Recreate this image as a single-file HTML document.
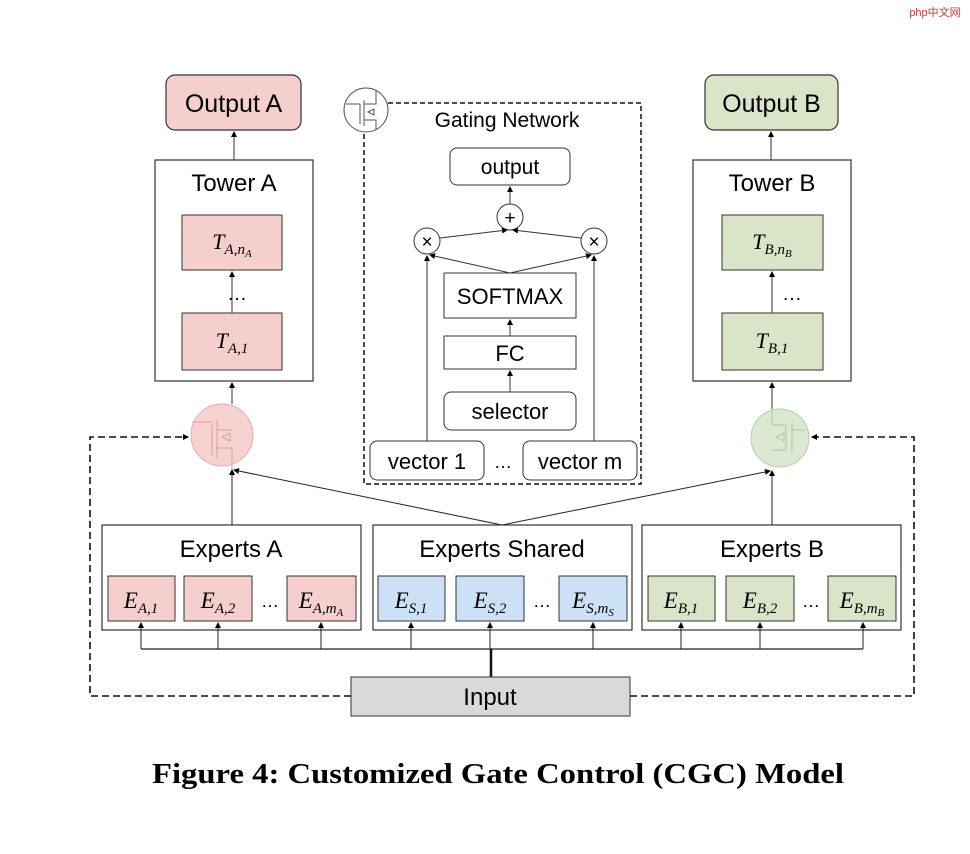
<!DOCTYPE html>
<html><head><meta charset="utf-8"><style>
html,body{margin:0;padding:0;background:#fff;}
svg{display:block;}
.s{font-family:"Liberation Sans",sans-serif;fill:#000;}
.m{font-family:"Liberation Serif",serif;font-style:italic;fill:#000;}
</style></head><body>
<svg width="970" height="854" viewBox="0 0 970 854" xmlns="http://www.w3.org/2000/svg">
<defs>
<marker id="a" markerWidth="6" markerHeight="6" refX="5" refY="3" orient="auto" markerUnits="userSpaceOnUse"><path d="M0,0 L6,3 L0,6 z" fill="#000"/></marker>
</defs>
<text x="935" y="16" font-size="11" fill="#c33" font-family="Liberation Sans, Noto Sans CJK SC, sans-serif" text-anchor="middle">php中文网</text>

<rect x="166" y="75" width="135" height="55" rx="9" fill="#f4cfcd" stroke="#333" stroke-width="1.2"/>
<text x="233.5" y="112" font-size="25" text-anchor="middle" class="s">Output A</text>
<rect x="155" y="160" width="158" height="221" fill="#fff" stroke="#333" stroke-width="1.2"/>
<text x="234" y="191" font-size="24" text-anchor="middle" class="s">Tower A</text>
<rect x="182" y="215" width="100" height="55" fill="#f4cfcd" stroke="#333"/>
<text x="232" y="249" font-size="22" text-anchor="middle" class="m">T<tspan font-size="15" dy="5">A,n</tspan><tspan font-size="11" dy="3">A</tspan></text>
<text x="237" y="300" font-size="20" text-anchor="middle" class="s">…</text>
<rect x="182" y="313" width="100" height="57" fill="#f4cfcd" stroke="#333"/>
<text x="232" y="348" font-size="22" text-anchor="middle" class="m">T<tspan font-size="15" dy="5">A,1</tspan></text>
<line x1="232" y1="313" x2="232" y2="272" stroke="#333" marker-end="url(#a)"/>
<line x1="234" y1="160" x2="234" y2="132" stroke="#333" marker-end="url(#a)"/>

<rect x="705" y="75" width="133" height="55" rx="9" fill="#d9e4c9" stroke="#333" stroke-width="1.2"/>
<text x="771.5" y="112" font-size="25" text-anchor="middle" class="s">Output B</text>
<rect x="693" y="160" width="158" height="221" fill="#fff" stroke="#333" stroke-width="1.2"/>
<text x="772" y="191" font-size="24" text-anchor="middle" class="s">Tower B</text>
<rect x="722" y="215" width="101" height="55" fill="#d9e4c9" stroke="#333"/>
<text x="772" y="249" font-size="22" text-anchor="middle" class="m">T<tspan font-size="15" dy="5">B,n</tspan><tspan font-size="11" dy="3">B</tspan></text>
<text x="792" y="300" font-size="20" text-anchor="middle" class="s">…</text>
<rect x="722" y="313" width="101" height="57" fill="#d9e4c9" stroke="#333"/>
<text x="772" y="348" font-size="22" text-anchor="middle" class="m">T<tspan font-size="15" dy="5">B,1</tspan></text>
<line x1="772" y1="313" x2="772" y2="272" stroke="#333" marker-end="url(#a)"/>
<line x1="771" y1="160" x2="771" y2="132" stroke="#333" marker-end="url(#a)"/>

<circle cx="222" cy="435" r="31" fill="#f6d3d1" stroke="#e8aaa8"/>
<g stroke="#e29a98" fill="none" stroke-width="1"><path d="M192,422 H212 M212,425 V455 M217,420 V458 M217,430 H232 M217,448 H232 M232,448 V470 M222,437 l8,-4 v8 z"/></g>
<circle cx="780" cy="438" r="29" fill="#dbe9d3" stroke="#b4cfa8"/>
<g stroke="#a9c79a" fill="none" stroke-width="1"><path d="M772,410 V425 M772,425 H786 M786,425 V450 M772,450 H786 M792,424 V452 M792,430 H806 M776,437 l8,-4 v8 z"/></g>
<line x1="232" y1="404" x2="232" y2="383" stroke="#333" marker-end="url(#a)"/>
<line x1="772" y1="409" x2="772" y2="383" stroke="#333" marker-end="url(#a)"/>

<rect x="364" y="103" width="277" height="381" fill="none" stroke="#111" stroke-width="1.5" stroke-dasharray="5,3"/>
<circle cx="366" cy="110" r="22" fill="#fff" stroke="#555"/>
<g stroke="#555" fill="none"><path d="M346,104 H360 M360,104 V124 M364,100 V126 M364,104 H376 V90 M364,120 H376 V130 M368,112 l6,-3 v6 z"/></g>
<text x="507" y="127" font-size="21" text-anchor="middle" class="s">Gating Network</text>
<rect x="450" y="148" width="120" height="37" rx="7" fill="#fff" stroke="#333"/>
<text x="510" y="174" font-size="21" text-anchor="middle" class="s">output</text>
<circle cx="510" cy="217" r="13" fill="#fff" stroke="#333"/>
<text x="510" y="224" font-size="19" text-anchor="middle" class="s">+</text>
<circle cx="427" cy="241" r="13" fill="#fff" stroke="#333"/>
<text x="427" y="248" font-size="19" text-anchor="middle" class="s">×</text>
<circle cx="594" cy="241" r="13" fill="#fff" stroke="#333"/>
<text x="594" y="248" font-size="19" text-anchor="middle" class="s">×</text>
<line x1="510" y1="204" x2="510" y2="187" stroke="#333" marker-end="url(#a)"/>
<line x1="440" y1="238" x2="507" y2="230" stroke="#333" marker-end="url(#a)"/>
<line x1="581" y1="238" x2="513" y2="230" stroke="#333" marker-end="url(#a)"/>
<line x1="510" y1="273" x2="430" y2="255" stroke="#333" marker-end="url(#a)"/>
<line x1="510" y1="273" x2="591" y2="255" stroke="#333" marker-end="url(#a)"/>
<rect x="444" y="273" width="132" height="45" fill="#fff" stroke="#333"/>
<text x="510" y="304" font-size="22" text-anchor="middle" class="s">SOFTMAX</text>
<rect x="444" y="336" width="132" height="33" fill="#fff" stroke="#333"/>
<text x="510" y="361" font-size="22" text-anchor="middle" class="s">FC</text>
<rect x="444" y="392" width="132" height="38" rx="7" fill="#fff" stroke="#333"/>
<text x="510" y="419" font-size="22" text-anchor="middle" class="s">selector</text>
<line x1="510" y1="336" x2="510" y2="320" stroke="#333" marker-end="url(#a)"/>
<line x1="510" y1="392" x2="510" y2="371" stroke="#333" marker-end="url(#a)"/>
<rect x="370" y="441" width="114" height="39" rx="7" fill="#fff" stroke="#333"/>
<text x="427" y="469" font-size="22" text-anchor="middle" class="s">vector 1</text>
<text x="503" y="468" font-size="18" text-anchor="middle" class="s">…</text>
<rect x="523" y="441" width="114" height="39" rx="7" fill="#fff" stroke="#333"/>
<text x="580" y="469" font-size="22" text-anchor="middle" class="s">vector m</text>
<line x1="427" y1="441" x2="427" y2="256" stroke="#333" marker-end="url(#a)"/>
<line x1="594" y1="441" x2="594" y2="256" stroke="#333" marker-end="url(#a)"/>

<line x1="502" y1="525" x2="234" y2="470" stroke="#222" marker-end="url(#a)"/>
<line x1="502" y1="525" x2="770" y2="471" stroke="#222" marker-end="url(#a)"/>
<line x1="232" y1="525" x2="232" y2="470" stroke="#222" marker-end="url(#a)"/>
<line x1="772" y1="525" x2="772" y2="471" stroke="#222" marker-end="url(#a)"/>

<rect x="102" y="525" width="259" height="105" fill="#fff" stroke="#333" stroke-width="1.2"/>
<text x="231" y="557" font-size="24" text-anchor="middle" class="s">Experts A</text>
<rect x="373" y="525" width="259" height="105" fill="#fff" stroke="#333" stroke-width="1.2"/>
<text x="502" y="557" font-size="24" text-anchor="middle" class="s">Experts Shared</text>
<rect x="642" y="525" width="259" height="105" fill="#fff" stroke="#333" stroke-width="1.2"/>
<text x="772" y="557" font-size="24" text-anchor="middle" class="s">Experts B</text>

<g stroke="#333">
<rect x="108" y="576" width="67" height="45" fill="#f4cfcd"/>
<rect x="184" y="576" width="68" height="45" fill="#f4cfcd"/>
<rect x="287" y="576" width="69" height="45" fill="#f4cfcd"/>
<rect x="378" y="576" width="67" height="45" fill="#cde1f6"/>
<rect x="456" y="576" width="68" height="45" fill="#cde1f6"/>
<rect x="559" y="576" width="68" height="45" fill="#cde1f6"/>
<rect x="648" y="576" width="67" height="45" fill="#d9e4c9"/>
<rect x="726" y="576" width="68" height="45" fill="#d9e4c9"/>
<rect x="828" y="576" width="68" height="45" fill="#d9e4c9"/>
</g>
<text x="141" y="608" font-size="23" text-anchor="middle" class="m">E<tspan font-size="15" dy="5">A,1</tspan></text>
<text x="218" y="608" font-size="23" text-anchor="middle" class="m">E<tspan font-size="15" dy="5">A,2</tspan></text>
<text x="270" y="607" font-size="18" text-anchor="middle" class="s">…</text>
<text x="321" y="608" font-size="23" text-anchor="middle" class="m">E<tspan font-size="15" dy="5">A,m</tspan><tspan font-size="11" dy="3">A</tspan></text>
<text x="411" y="608" font-size="23" text-anchor="middle" class="m">E<tspan font-size="15" dy="5">S,1</tspan></text>
<text x="490" y="608" font-size="23" text-anchor="middle" class="m">E<tspan font-size="15" dy="5">S,2</tspan></text>
<text x="542" y="607" font-size="18" text-anchor="middle" class="s">…</text>
<text x="593" y="608" font-size="23" text-anchor="middle" class="m">E<tspan font-size="15" dy="5">S,m</tspan><tspan font-size="11" dy="3">S</tspan></text>
<text x="681" y="608" font-size="23" text-anchor="middle" class="m">E<tspan font-size="15" dy="5">B,1</tspan></text>
<text x="760" y="608" font-size="23" text-anchor="middle" class="m">E<tspan font-size="15" dy="5">B,2</tspan></text>
<text x="811" y="607" font-size="18" text-anchor="middle" class="s">…</text>
<text x="862" y="608" font-size="23" text-anchor="middle" class="m">E<tspan font-size="15" dy="5">B,m</tspan><tspan font-size="11" dy="3">B</tspan></text>

<line x1="141" y1="649" x2="863" y2="649" stroke="#222" stroke-width="1.2"/>
<g stroke="#222">
<line x1="141" y1="649" x2="141" y2="623" marker-end="url(#a)"/>
<line x1="218" y1="649" x2="218" y2="623" marker-end="url(#a)"/>
<line x1="321" y1="649" x2="321" y2="623" marker-end="url(#a)"/>
<line x1="411" y1="649" x2="411" y2="623" marker-end="url(#a)"/>
<line x1="490" y1="649" x2="490" y2="623" marker-end="url(#a)"/>
<line x1="593" y1="649" x2="593" y2="623" marker-end="url(#a)"/>
<line x1="681" y1="649" x2="681" y2="623" marker-end="url(#a)"/>
<line x1="760" y1="649" x2="760" y2="623" marker-end="url(#a)"/>
<line x1="863" y1="649" x2="863" y2="623" marker-end="url(#a)"/>
</g>
<line x1="491" y1="677" x2="491" y2="649" stroke="#111" stroke-width="2.5"/>
<rect x="351" y="677" width="279" height="39" fill="#d9d9d9" stroke="#333"/>
<text x="490" y="705" font-size="24" text-anchor="middle" class="s">Input</text>

<path d="M351,696 H90 V437 H188" fill="none" stroke="#111" stroke-width="1.6" stroke-dasharray="7,4" marker-end="url(#a)"/>
<path d="M630,696 H914 V437 H812" fill="none" stroke="#111" stroke-width="1.6" stroke-dasharray="7,4" marker-end="url(#a)"/>

<text x="498" y="783" font-size="28" font-weight="bold" text-anchor="middle" font-family="Liberation Serif, serif" textLength="692" lengthAdjust="spacingAndGlyphs">Figure 4: Customized Gate Control (CGC) Model</text>
</svg>
</body></html>
